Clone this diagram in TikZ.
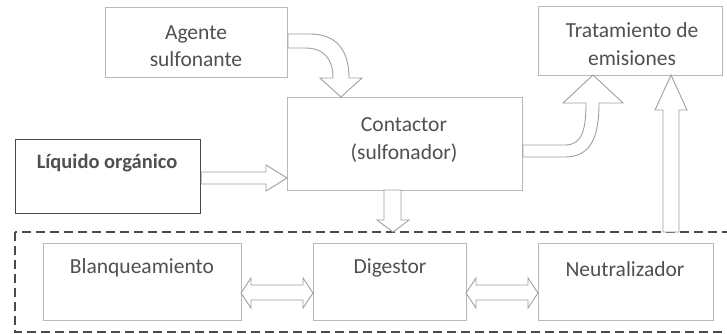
\documentclass[tikz,border=0pt]{standalone}
\usepackage{fontspec}
\setmainfont{Carlito}
\begin{document}
\begin{tikzpicture}[x=1pt,y=-1pt,
  box/.style={draw=boxgray,line width=1pt,fill=white},
  txt/.style={text=txtgray,font=\fontsize{21.5}{27.5}\selectfont,align=center},
  blockarrow/.style={draw=arrgray,line width=0.9pt,fill=white,line join=miter}]
\definecolor{boxgray}{HTML}{B8B8B8}
\definecolor{txtgray}{HTML}{505050}
\definecolor{arrgray}{HTML}{A0A0A0}
\definecolor{darkgray2}{HTML}{4A4A4A}
\useasboundingbox (0,0) rectangle (727,333);
% boxes
\node[box,minimum width=182pt,minimum height=70pt,anchor=north west] (ag) at (105,7) {};
\node[box,minimum width=184pt,minimum height=69pt,anchor=north west] (tr) at (538,6) {};
\node[box,minimum width=235pt,minimum height=93pt,anchor=north west] (co) at (287,97) {};
\node[draw=darkgray2,line width=1.2pt,fill=white,minimum width=185pt,minimum height=74pt,anchor=north west] (li) at (15,139) {};
\node[box,minimum width=198pt,minimum height=77pt,anchor=north west] (bl) at (43,243) {};
\node[box,minimum width=153pt,minimum height=77pt,anchor=north west] (di) at (313,243) {};
\node[box,minimum width=175pt,minimum height=77pt,anchor=north west] (ne) at (538,243) {};
% dashed group
\draw[draw=darkgray2,line width=2pt,dash pattern=on 9pt off 5pt] (15,232) rectangle (735,332);
% texts
\node[txt] (agt) at (196,46) {Agente\\sulfonante};
\node[txt] (trt) at (632,44) {Tratamiento de\\emisiones};
\node[txt] (cot) at (404,140) {Contactor\\(sulfonador)};
\node[text=txtgray,font=\fontsize{20.5}{24}\selectfont\bfseries] (lit) at (107,163) {Líquido orgánico};
\node[txt] (blt) at (142,268) {Blanqueamiento};
\node[txt] (dit) at (390,268) {Digestor};
\node[txt] (net) at (625,269) {Neutralizador};
% Agente -> Contactor (curved)
\draw[blockarrow] (ag.east|-0,34) -- (310,34) .. controls (338,34) and (349,52) .. (349,78)
  -- (362,78) -- (341,97) -- (320,78) -- (333,78)
  .. controls (333,60) and (325,48) .. (305,48) -- (ag.east|-0,48) -- cycle;
% Liquido -> Contactor
\draw[blockarrow] (li.east|-0,172) -- (266,172) -- (266,165) -- (co.west|-0,178) -- (266,191) -- (266,184) -- (li.east|-0,184) -- cycle;
% Contactor -> Tratamiento (curved)
\draw[blockarrow] (co.east|-0,145) -- (565,145) .. controls (582,145) and (586,130) .. (586,103)
  -- (563,103) -- (593,75) -- (623,103) -- (599,103)
  .. controls (599,135) and (592,157) .. (565,157) -- (co.east|-0,157) -- cycle;
% Contactor -> group
\draw[blockarrow] (384,190) -- (384,220) -- (377,220) -- (393,232) -- (409,220) -- (401,220) -- (401,190) -- cycle;
% group -> Tratamiento
\draw[blockarrow] (663,232) -- (663,110) -- (655,110) -- (671,75) -- (687,110) -- (679,110) -- (679,232) -- cycle;
% double arrows
\draw[blockarrow] (241,293) -- (251,278) -- (251,285) -- (303,285) -- (303,278) -- (313,293) -- (303,308) -- (303,300) -- (251,300) -- (251,308) -- cycle;
\draw[blockarrow] (466,293) -- (476,278) -- (476,285) -- (528,285) -- (528,278) -- (538,293) -- (528,308) -- (528,300) -- (476,300) -- (476,308) -- cycle;
\end{tikzpicture}
\end{document}
